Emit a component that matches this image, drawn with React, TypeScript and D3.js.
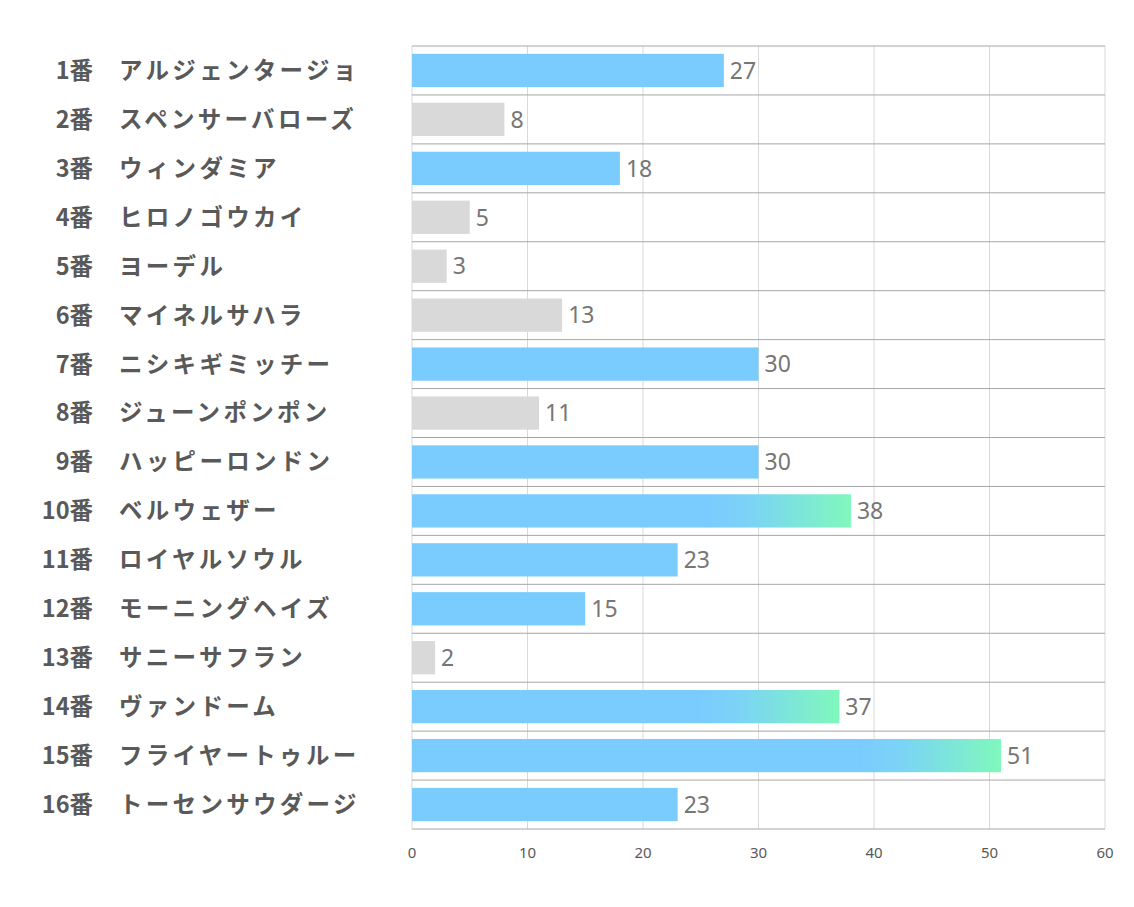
import { useRef, useEffect } from 'react';
import * as d3 from 'd3';

const numbers = ['1番', '2番', '3番', '4番', '5番', '6番', '7番', '8番', '9番', '10番', '11番', '12番', '13番', '14番', '15番', '16番'];
const names = [
  'アルジェンタージョ', 'スペンサーバローズ', 'ウィンダミア', 'ヒロノゴウカイ', 'ヨーデル', 'マイネルサハラ',
  'ニシキギミッチー', 'ジューンポンポン', 'ハッピーロンドン', 'ベルウェザー', 'ロイヤルソウル', 'モーニングヘイズ',
  'サニーサフラン', 'ヴァンドーム', 'フライヤートゥルー', 'トーセンサウダージ',
];
const values = [27, 8, 18, 5, 3, 13, 30, 11, 30, 38, 23, 15, 2, 37, 51, 23];
// 0 = gray, 1 = blue, 2 = blue with green fade
const kinds = [1, 0, 1, 0, 0, 0, 1, 0, 1, 2, 1, 1, 0, 2, 2, 1];
const xTicks = [0, 10, 20, 30, 40, 50, 60];

export default function App() {
  const svgRef = useRef<SVGSVGElement>(null);
  const width = 1134;
  const height = 907;

  useEffect(() => {
    if (!svgRef.current) return;
    const svg = d3.select(svgRef.current);
    svg.selectAll('*').remove();

    const left = 412, right = 1105, top = 46, bottom = 829;

    const x = d3.scaleLinear().domain([0, 60]).range([left, right]);
    const y = d3.scaleBand<number>()
      .domain(d3.range(values.length))
      .range([top, bottom])
      .paddingInner(0.32)
      .paddingOuter(0.16);
    const step = y.step();

    const defs = svg.append('defs');
    values.forEach((v, i) => {
      if (kinds[i] !== 2) return;
      const g = defs.append('linearGradient')
        .attr('id', `fade${i}`)
        .attr('gradientUnits', 'userSpaceOnUse')
        .attr('x1', x(v - 12.5)).attr('x2', x(v))
        .attr('y1', 0).attr('y2', 0);
      g.append('stop').attr('offset', 0).attr('stop-color', '#7acbfe');
      g.append('stop').attr('offset', 0.3).attr('stop-color', '#7bd3f6');
      g.append('stop').attr('offset', 1).attr('stop-color', '#7ff8bc');
    });

    // vertical grid
    svg.append('g')
      .selectAll('line')
      .data(xTicks)
      .enter().append('line')
      .attr('x1', d => x(d)).attr('x2', d => x(d))
      .attr('y1', top).attr('y2', bottom)
      .attr('stroke', '#d9d9d9')
      .attr('stroke-width', 1);

    // horizontal row lines
    svg.append('g')
      .selectAll('line')
      .data(d3.range(values.length + 1))
      .enter().append('line')
      .attr('x1', left).attr('x2', right)
      .attr('y1', d => top + d * step).attr('y2', d => top + d * step)
      .attr('stroke', '#a6a6a6')
      .attr('stroke-width', 1);

    // bars
    svg.append('g')
      .selectAll('rect')
      .data(values)
      .enter().append('rect')
      .attr('x', x(0))
      .attr('y', (_, i) => y(i)!)
      .attr('width', d => x(d) - x(0))
      .attr('height', y.bandwidth())
      .attr('fill', (_, i) => kinds[i] === 0 ? '#d9d9d9' : kinds[i] === 1 ? '#7acbfe' : `url(#fade${i})`);

    // value labels
    svg.append('g')
      .selectAll('text')
      .data(values)
      .enter().append('text')
      .attr('x', d => x(d) + 6)
      .attr('y', (_, i) => y(i)! + y.bandwidth() / 2)
      .attr('dy', '0.36em')
      .style('font-family', '"Noto Sans", sans-serif')
      .style('font-size', '23px')
      .style('fill', '#767676')
      .text(d => d);

    // category labels
    const labels = svg.append('g')
      .style('font-family', '"Noto Sans CJK JP", sans-serif')
      .style('font-weight', 'bold')
      .style('font-size', '23.5px')
      .style('fill', '#595959');

    labels.selectAll('.num')
      .data(numbers)
      .enter().append('text')
      .attr('class', 'num')
      .attr('x', 93)
      .attr('y', (_, i) => y(i)! + y.bandwidth() / 2)
      .attr('dy', '0.36em')
      .attr('text-anchor', 'end')
      .text(d => d);

    labels.selectAll('.name')
      .data(names)
      .enter().append('text')
      .attr('class', 'name')
      .attr('x', 119)
      .attr('y', (_, i) => y(i)! + y.bandwidth() / 2)
      .attr('dy', '0.36em')
      .style('letter-spacing', '3.3px')
      .text(d => d);

    // x axis tick labels
    svg.append('g')
      .selectAll('text')
      .data(xTicks)
      .enter().append('text')
      .attr('x', d => x(d))
      .attr('y', 853)
      .attr('dy', '0.36em')
      .attr('text-anchor', 'middle')
      .style('font-family', '"Noto Sans", sans-serif')
      .style('font-size', '15px')
      .style('fill', '#595959')
      .text(d => d);
  }, []);

  return (
    <div style={{ width, height, background: '#fff' }}>
      <svg ref={svgRef} width={width} height={height} style={{ display: 'block', position: 'absolute', left: 0, top: 0 }} />
    </div>
  );
}
